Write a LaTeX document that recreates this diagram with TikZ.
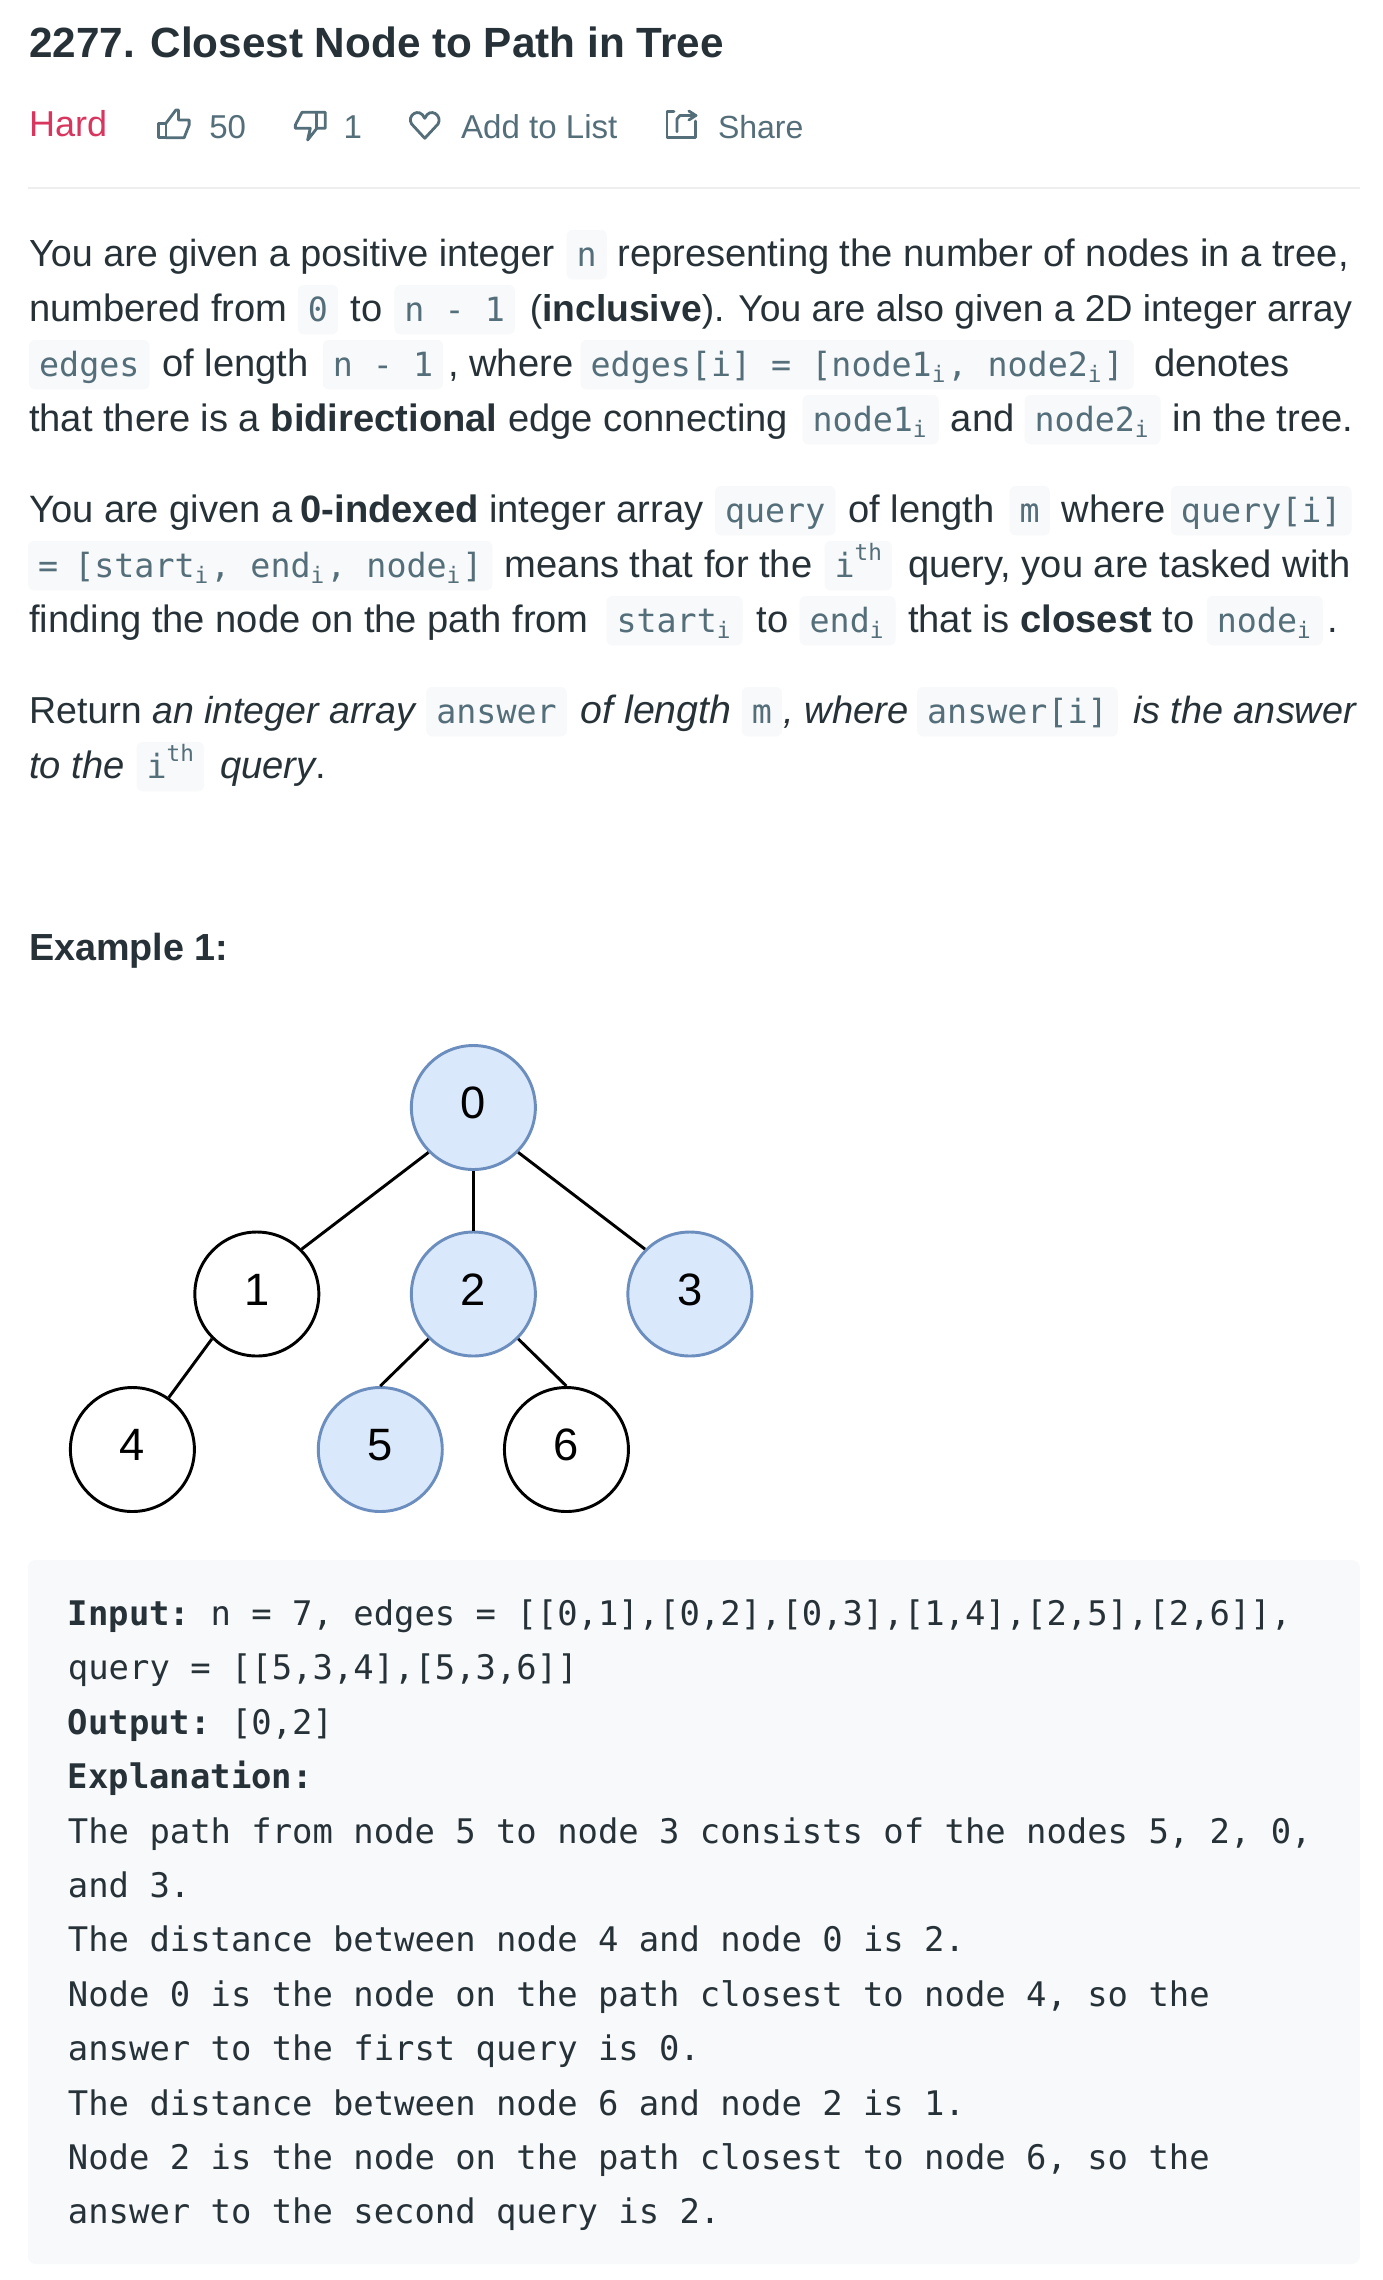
\documentclass[tikz,border=0pt]{standalone}
\usepackage{fontspec}
\setmainfont{Liberation Sans}
\setmonofont{DejaVu Sans Mono}
\usepackage{tikz}

\definecolor{inkc}{HTML}{263238}
\definecolor{grayc}{HTML}{546E7A}
\definecolor{chipc}{HTML}{F7F9FA}
\definecolor{hardc}{HTML}{D9365F}
\definecolor{rulec}{HTML}{EEEEEE}
\definecolor{treefill}{HTML}{DAE8FC}
\definecolor{treeline}{HTML}{6C8EBF}

\newcommand{\subi}{\raisebox{-.2em}{\fontsize{17}{17}\selectfont i}\kern1.5pt}
\newcommand{\supth}{\raisebox{.5em}{\fontsize{17}{17}\selectfont th}}

\tikzset{
	body/.style={anchor=base west, inner sep=0pt, text=inkc, font=\fontsize{28.6}{33}\selectfont},
	bodysize/.style={font=\fontsize{#1}{33}\selectfont},
	meta/.style={body, text=grayc, font=\fontsize{24.8}{30}\selectfont},
	chip/.style={anchor=base west, inner xsep=7.5pt, inner ysep=0pt, text height=27pt, text depth=10pt,
		fill=chipc, rounded corners=4.5pt, text=grayc, font=\ttfamily\fontsize{25}{30}\selectfont},
	code/.style={anchor=base west, inner sep=0pt, text=inkc, font=\ttfamily\fontsize{25.4}{30}\selectfont},
	treenode/.style={circle, draw=black, fill=white, line width=2.2pt, minimum size=93pt, inner sep=0pt,
		text depth=7pt, text height=24pt, font=\fontsize{34}{34}\selectfont},
	marked/.style={treenode, draw=treeline, fill=treefill},
	edge/.style={black, line width=2.2pt},
	icon/.style={grayc, line width=2.1pt, line join=round, line cap=round}
}

\begin{document}
\begin{tikzpicture}[x=.75pt, y=-.75pt]
	\useasboundingbox (0,0) rectangle (1382,2280);
	\fill[white] (0,0) rectangle (1382,2280);
	\begin{scope}[xscale=.9955]
	%Title
	\node[body, font=\bfseries\fontsize{31.7}{36}\selectfont] (title) at (29,57.5) {2277. Closest Node to Path in Tree};
	%Header row
	\node[body, text=hardc, font=\fontsize{27}{30}\selectfont] (hard) at (29,137) {Hard};
	\draw[icon] (159.3,123.3) rectangle (166.7,137.7);
	\draw[icon] (166.7,123.3) -- (176.7,110) -- (179.3,110) -- (179.3,120) -- (190,120) -- (190,125) -- (185,137.7) -- (166.7,137.7);
	\node[meta] (likes) at (210,138) {50};
	\draw[icon] (303.3,112.3) -- (326.7,112.3) -- (326.7,128.3) -- (318.3,128.3) -- (309,140) -- (311.7,128.3) -- (296.7,128.3) -- (296.7,125) -- cycle;
	\draw[icon] (318.3,112.3) -- (318.3,128.3);
	\node[meta] (dislikes) at (345,138) {1};
	\draw[icon] (426.7,138.3) -- (413.5,124) .. controls (408,116) and (421,106) .. (426.7,118.3) .. controls (432,106) and (445,116) .. (440,124) -- cycle;
	\node[meta] (addlist) at (463,138) {Add to List};
	\draw[icon] (677,111.7) -- (670,111.7) -- (670,137.3) -- (699,137.3) -- (699,121);
	\draw[icon] (680,131.7) -- (680,119) -- (683,115.5) -- (699,115.5);
	\draw[icon] (692,111) -- (699,115.5) -- (692,120);
	\node[meta, font=\fontsize{24}{30}\selectfont] (share) at (721,138) {Share};
	\draw[rulec, line width=1.5pt] (28,188) -- (1366,188);

	%First paragraph
	\node[body, bodysize=28.3] (p1a) at (29,266) {You are given a positive integer};
	\node[chip] (p1b) at (569,266) {n};
	\node[body] (p1c) at (620,266) {representing the number of nodes in a tree,};
	\node[body] (p2a) at (29,321) {numbered from};
	\node[chip] (p2b) at (299,321) {0};
	\node[body] (p2c) at (352,321) {to};
	\node[chip] (p2d) at (396,321) {n - 1};
	\node[body, bodysize=27.95] (p2e) at (532,321) {(\textbf{inclusive}). You are also given a 2D integer array};
	\node[chip] (p3a) at (29,376) {edges};
	\node[body] (p3b) at (163,376) {of length};
	\node[chip] (p3c) at (324,376) {n - 1};
	\node[body] (p3d) at (450,376) {, where};
	\node[chip] (p3e) at (583,376) {edges[i] = [node1\subi, node2\subi]};
	\node[body] (p3f) at (1159,376) {denotes};
	\node[body] (p4a) at (29,431) {that there is a \textbf{bidirectional} edge connecting};
	\node[chip] (p4b) at (806,431) {node1\subi};
	\node[body] (p4c) at (955,431) {and};
	\node[chip] (p4d) at (1029,431) {node2\subi};
	\node[body] (p4e) at (1178,431) {in the tree.};

	%Second paragraph
	\node[body] (p5a) at (29,522) {You are given a\kern-2pt{} \textbf{0-indexed} integer array};
	\node[chip] (p5b) at (718,522) {query};
	\node[body] (p5c) at (852,522) {of length};
	\node[chip] (p5d) at (1014,522) {m};
	\node[body] (p5e) at (1066,522) {where};
	\node[chip] (p5f) at (1176,522) {query[i]};
	\node[chip] (p6a) at (28,577) {=\kern-3pt{} [start\subi, end\subi, node\subi]};
	\node[body] (p6b) at (507,577) {means that for the};
	\node[chip] (p6c) at (828,577) {i\supth};
	\node[body] (p6d) at (912,577) {query, you are tasked with};
	\node[body] (p7a) at (29,632) {finding the node on the path from};
	\node[chip] (p7b) at (609,632) {start\subi};
	\node[body] (p7c) at (760,632) {to};
	\node[chip] (p7d) at (803,632) {end\subi};
	\node[body] (p7e) at (912,632) {that is \textbf{closest} to};
	\node[chip] (p7f) at (1212,632) {node\subi};
	\node[body] (p7g) at (1333,632) {.};

	%Third paragraph
	\node[body, bodysize=28.15] (p8a) at (29,723) {Return \textit{an integer array}};
	\node[chip] (p8b) at (428,723) {answer};
	\node[body, bodysize=29.5] (p8c) at (583,723) {\textit{of length}};
	\node[chip] (p8d) at (745,723) {m};
	\node[body] (p8e) at (787,723) {\textit{, where}};
	\node[chip] (p8f) at (921,723) {answer[i]};
	\node[body, bodysize=28.35] (p8g) at (1138,723) {\textit{is the answer}};
	\node[body] (p9a) at (29,778) {\textit{to the}};
	\node[chip] (p9b) at (137,778) {i\supth};
	\node[body] (p9c) at (221,778) {\textit{query}.};

	\node[body, font=\bfseries\fontsize{28.3}{33}\selectfont] (example) at (29,960) {Example 1:};

	%Tree
	\node[marked] (n0) at (475.5,1107.5) {0};
	\node[treenode] (n1) at (258,1294) {1};
	\node[marked] (n2) at (475.5,1294) {2};
	\node[marked] (n3) at (693,1294) {3};
	\node[treenode] (n4) at (133,1449.5) {4};
	\node[marked] (n5) at (382,1449.5) {5};
	\node[treenode] (n6) at (569,1449.5) {6};
	\draw[edge] (n0.south west) -- (n1.north east);
	\draw[edge] (n0.south) -- (n2.north);
	\draw[edge] (n0.south east) -- (n3.north west);
	\draw[edge] (n1.south west) -- (n4.55);
	\draw[edge] (n2.south west) -- (n5.north);
	\draw[edge] (n2.south east) -- (n6.north);

	%Code block
	\fill[chipc, rounded corners=6pt] (28,1560) rectangle (1366,2264);
	\node[code] (l1) at (68,1625.5) {\textbf{Input:} n = 7, edges = [[0,1],[0,2],[0,3],[1,4],[2,5],[2,6]],};
	\node[code] (l2) at (68,1679.9) {query = [[5,3,4],[5,3,6]]};
	\node[code] (l3) at (68,1734.3) {\textbf{Output:} [0,2]};
	\node[code] (l4) at (68,1788.7) {\textbf{Explanation:}};
	\node[code] (l5) at (68,1843.1) {The path from node 5 to node 3 consists of the nodes 5, 2, 0,};
	\node[code] (l6) at (68,1897.5) {and 3.};
	\node[code] (l7) at (68,1951.9) {The distance between node 4 and node 0 is 2.};
	\node[code] (l8) at (68,2006.3) {Node 0 is the node on the path closest to node 4, so the};
	\node[code] (l9) at (68,2060.7) {answer to the first query is 0.};
	\node[code] (l10) at (68,2115.1) {The distance between node 6 and node 2 is 1.};
	\node[code] (l11) at (68,2169.5) {Node 2 is the node on the path closest to node 6, so the};
	\node[code] (l12) at (68,2223.9) {answer to the second query is 2.};
	\end{scope}
\end{tikzpicture}
\end{document}
